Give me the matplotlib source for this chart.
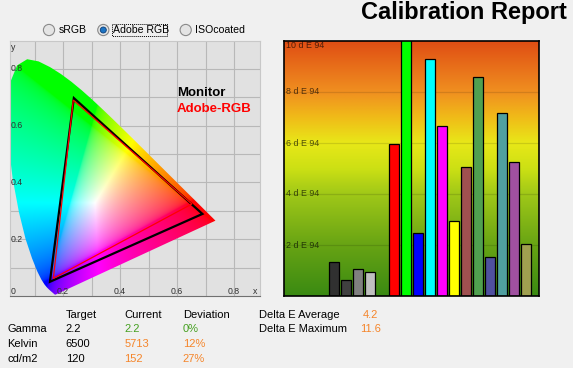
import numpy as np
import matplotlib
matplotlib.use('Agg')
import matplotlib.pyplot as plt
from matplotlib.colors import LinearSegmentedColormap
from matplotlib.patches import Polygon, Circle, Rectangle

plt.rcParams['font.family'] = ['Liberation Sans', 'DejaVu Sans']

# CIE 1931 spectral locus, 380-700 nm
locus_x = [0.1741, 0.1740, 0.1738, 0.1736, 0.1733, 0.1730, 0.1726, 0.1721, 0.1714, 0.1703,
           0.1689, 0.1669, 0.1644, 0.1611, 0.1566, 0.1510, 0.1440, 0.1355, 0.1241, 0.1096,
           0.0913, 0.0687, 0.0454, 0.0235, 0.0082, 0.0039, 0.0139, 0.0389, 0.0743, 0.1142,
           0.1547, 0.1929, 0.2296, 0.2658, 0.3016, 0.3373, 0.3731, 0.4087, 0.4441, 0.4788,
           0.5125, 0.5448, 0.5752, 0.6029, 0.6270, 0.6482, 0.6658, 0.6801, 0.6915, 0.7006,
           0.7079, 0.7140, 0.7190, 0.7230, 0.7260, 0.7283, 0.7300, 0.7311, 0.7320, 0.7327,
           0.7334, 0.7344, 0.7347]
locus_y = [0.0050, 0.0050, 0.0049, 0.0049, 0.0048, 0.0048, 0.0048, 0.0048, 0.0051, 0.0058,
           0.0069, 0.0086, 0.0109, 0.0138, 0.0177, 0.0227, 0.0297, 0.0399, 0.0578, 0.0868,
           0.1327, 0.2007, 0.2950, 0.4127, 0.5384, 0.6548, 0.7502, 0.8120, 0.8338, 0.8262,
           0.8059, 0.7816, 0.7543, 0.7243, 0.6923, 0.6589, 0.6245, 0.5896, 0.5547, 0.5202,
           0.4866, 0.4544, 0.4242, 0.3965, 0.3725, 0.3514, 0.3340, 0.3197, 0.3083, 0.2993,
           0.2920, 0.2859, 0.2809, 0.2770, 0.2740, 0.2717, 0.2700, 0.2689, 0.2680, 0.2673,
           0.2666, 0.2656, 0.2653]

# measured primaries (R, G, B)
monitor_x = [0.689, 0.238, 0.154]
monitor_y = [0.289, 0.697, 0.050]
adobe_x = [0.652, 0.236, 0.166]
adobe_y = [0.324, 0.690, 0.062]

# delta E per patch
patch_slots = [0, 1, 2, 3, 5, 6, 7, 8, 9, 10, 11, 12, 13, 14, 15, 16]
patch_colors = ['#303030', '#404040', '#808080', '#C0C0C0', '#FF0000', '#00FF00',
                '#0000FF', '#00FFFF', '#FF00FF', '#FFFF00', '#A05050', '#50A050',
                '#5050A0', '#50A0A0', '#A050A0', '#A0A050']
delta_e = [1.32, 0.62, 1.05, 0.93, 5.95, 11.6, 2.46, 9.28, 6.65, 2.93, 5.06, 8.58,
           1.52, 7.16, 5.24, 2.03]
de_ticks = [2, 4, 6, 8, 10]

# table
row_names = ['Gamma', 'Kelvin', 'cd/m2']
target_vals = ['2.2', '6500', '120']
current_vals = ['2.2', '5713', '152']
deviation_vals = ['0%', '12%', '27%']
delta_avg = '4.2'
delta_max = '11.6'

green = '#45A020'
orange = '#F5852A'
row_colors = [green, orange, orange]

fig = plt.figure(figsize=(5.73, 3.68), dpi=100)
fig.patch.set_facecolor('#F0F0F0')
W, H = 573, 368


def px_rect(l, t, r, b):
    return [l / W, (H - b) / H, (r - l) / W, (b - t) / H]


# ---------------- chromaticity diagram ----------------
ax = fig.add_axes(px_rect(10, 41, 260, 296))
ax.set_facecolor('#E1E1E1')
ax.set_xlim(0.014, 0.891)
ax.set_ylim(0, 0.898)
for v in np.arange(0.1, 0.85, 0.1):
    ax.axvline(v, color='#B8B8B8', lw=0.8, zorder=0)
    ax.axhline(v, color='#B8B8B8', lw=0.8, zorder=0)

# colour fill of the horseshoe
n = 500
gx, gy = np.meshgrid(np.linspace(0, 0.9, n), np.linspace(0.001, 0.9, n))
X = gx / gy
Y = np.ones_like(gx)
Z = (1 - gx - gy) / gy
M = np.array([[3.2406, -1.5372, -0.4986],
              [-0.9689, 1.8758, 0.0415],
              [0.0557, -0.2040, 1.0570]])
rgb = np.stack([X, Y, Z], axis=-1) @ M.T
rgb = np.clip(rgb, 0, None)
rgb = rgb / rgb.max(axis=-1, keepdims=True)
rgb = np.clip(rgb, 0, 1) ** (1 / 2.4)
im = ax.imshow(rgb, extent=[0, 0.9, 0.001, 0.9], origin='lower', aspect='auto',
               zorder=1, interpolation='bilinear')
locus = Polygon(np.column_stack([locus_x, locus_y]), closed=True,
                transform=ax.transData, facecolor='none', edgecolor='none')
ax.add_patch(locus)
im.set_clip_path(locus)

ax.add_patch(Polygon(np.column_stack([monitor_x, monitor_y]), closed=True,
                     fill=False, edgecolor='black', lw=1.6, zorder=3))
ax.add_patch(Polygon(np.column_stack([adobe_x, adobe_y]), closed=True,
                     fill=False, edgecolor='red', lw=0.9, zorder=4))

ax.text(0.6, 0.715, 'Monitor', color='black', fontsize=9.5, fontweight='bold',
        va='center', zorder=5)
ax.text(0.6, 0.66, 'Adobe-RGB', color='red', fontsize=9.5, fontweight='bold',
        va='center', zorder=5)

lbl_color = '#303030'
for v in [0.2, 0.4, 0.6, 0.8]:
    ax.text(0.004, v, f'{v:.1f}', transform=ax.get_yaxis_transform(), fontsize=6.3,
            color=lbl_color, va='center', ha='left', zorder=5)
    ax.text(v, 0.018, f'{v:.1f}', transform=ax.get_xaxis_transform(), fontsize=6.3,
            color=lbl_color, va='center', ha='center', zorder=5)
ax.text(0.004, 0.018, '0', transform=ax.transAxes, fontsize=6.3, color=lbl_color,
        va='center', zorder=5)
ax.text(0.004, 0.975, 'y', transform=ax.transAxes, fontsize=6.3, color=lbl_color,
        va='center', zorder=5)
ax.text(0.99, 0.018, 'x', transform=ax.transAxes, fontsize=6.3, color=lbl_color,
        va='center', ha='right', zorder=5)
ax.set_xticks([])
ax.set_yticks([])
for s in ax.spines.values():
    s.set_color('#C8C8C8')
    s.set_linewidth(0.8)
ax.spines['bottom'].set_color('#707070')

# ---------------- delta E bars ----------------
bx = fig.add_axes(px_rect(284, 41, 539, 296))
bx.set_xlim(-4.17, 17.08)
bx.set_ylim(0, 10)
grad = LinearSegmentedColormap.from_list('de', [
    (0.0, '#3A8A12'), (0.2, '#68A414'), (0.4, '#A0C818'), (0.5, '#CCE014'),
    (0.6, '#E8E818'), (0.7, '#F0BC18'), (0.8, '#F09020'), (1.0, '#E04E14')])
bx.imshow(np.linspace(0, 1, 256).reshape(-1, 1), cmap=grad, origin='lower',
          extent=[-4.17, 17.08, 0, 10], aspect='auto', zorder=0)
for t in de_ticks[:-1]:
    bx.axhline(t, color='black', alpha=0.12, lw=0.9, zorder=1)
for t in de_ticks:
    bx.text(0.008, t if t < 10 else 9.82, f'{t} d E 94', transform=bx.get_yaxis_transform(),
            fontsize=6.4, color='black', alpha=0.65, va='center', ha='left', zorder=1)
bx.bar(patch_slots, delta_e, width=0.78, color=patch_colors, edgecolor='black',
       linewidth=0.9, zorder=2)
bx.set_xticks([])
bx.set_yticks([])
for s in bx.spines.values():
    s.set_color('black')
    s.set_linewidth(1.2)
    s.set_zorder(5)

# ---------------- header, radio buttons, table ----------------
ov = fig.add_axes([0, 0, 1, 1], zorder=10)
ov.set_xlim(0, W)
ov.set_ylim(H, 0)
ov.axis('off')
ov.patch.set_alpha(0)

ov.text(567, 19.5, 'Calibration Report', fontsize=17, fontweight='bold',
        ha='right', va='baseline')

radios = [('sRGB', 49, False), ('Adobe RGB', 103.3, True), ('ISOcoated', 185.7, False)]
for label, cx, on in radios:
    ov.add_patch(Circle((cx, 30), 5.6, facecolor='#E4E4E4', edgecolor='#8A8A8A', lw=0.8))
    if on:
        ov.add_patch(Circle((cx, 30), 3.0, facecolor='#1C74C4', edgecolor='#0C3E78', lw=0.6))
    ov.text(cx + 9.5, 30, label, fontsize=7.6, va='center', ha='left')
ov.add_patch(Rectangle((111.5, 23.5), 55.5, 12, fill=False, edgecolor='black',
                       lw=0.7, linestyle=(0, (1, 1))))

fs = 8
ov.text(65.7, 315, 'Target', fontsize=fs, va='center')
ov.text(124.3, 315, 'Current', fontsize=fs, va='center')
ov.text(182.7, 315, 'Deviation', fontsize=fs, va='center')
for i, name in enumerate(row_names):
    yy = 329.5 + i * 14.8
    ov.text(7.3, yy, name, fontsize=fs, va='center')
    ov.text(65.7, yy, target_vals[i], fontsize=fs, va='center')
    ov.text(124.3, yy, current_vals[i], fontsize=fs, va='center', color=row_colors[i])
    ov.text(182.7, yy, deviation_vals[i], fontsize=fs, va='center', color=row_colors[i])

ov.text(259.3, 315, 'Delta E Average', fontsize=fs, va='center')
ov.text(362.3, 315, delta_avg, fontsize=fs, va='center', color=orange)
ov.text(259.3, 329.5, 'Delta E Maximum', fontsize=fs, va='center')
ov.text(360, 329.5, delta_max, fontsize=fs, va='center', color=orange)

fig.savefig('out.png', dpi=100, facecolor=fig.get_facecolor())
